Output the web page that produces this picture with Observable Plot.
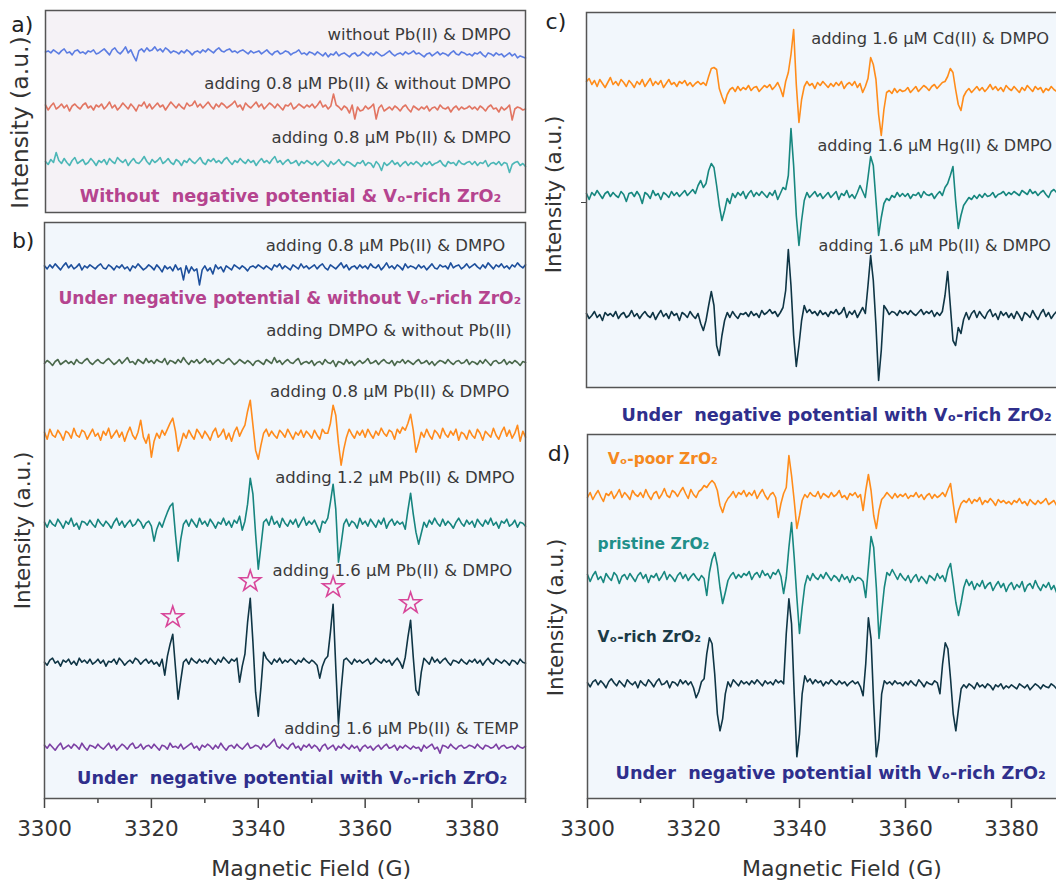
<!DOCTYPE html>
<html><head><meta charset="utf-8">
<script src="https://cdn.jsdelivr.net/npm/d3@7"></script>
<script src="https://cdn.jsdelivr.net/npm/@observablehq/plot@0.6"></script>
<style>
body{margin:0;background:#fff;}
#fig{position:relative;width:1056px;height:882px;overflow:hidden;font-family:"DejaVu Sans",sans-serif;}
#fig > div{position:absolute;}
#fig svg{max-width:none !important;}
#err{position:absolute;left:0;top:0;color:red;font:12px monospace;z-index:9;}
</style></head><body><div id="fig"></div><div id="err"></div>
<script>
// Magnetic field sampling (G): 3300 .. 3390 in 0.5 G steps (181 samples)
const fieldStart = 3300, fieldStep = 0.5, nSamples = 181;
const field = d3.range(nSamples).map(i => fieldStart + i * fieldStep);

// ---- Panel a spectra (intensity, a.u., relative to each trace baseline) ----
const a_noPbDMPO = [
 1,2,0,3,1,-1,2,4,0,1,-2,2,3,0,1,-1,2,1,3,-1,
 0,2,4,1,-2,3,5,1,-1,2,6,0,3,-3,-8,2,4,1,5,2,
 3,6,2,4,1,5,3,0,2,1,-1,2,0,3,1,-2,1,2,0,3,
 1,4,2,0,3,5,2,1,3,4,1,2,0,2,3,1,-1,2,0,1,
 2,-1,1,3,0,-2,1,2,-1,0,2,1,-2,0,1,3,-1,0,-2,1,
 0,-2,1,-1,-3,0,-4,-1,-2,1,-3,-1,0,-2,-4,-1,0,-3,-2,1,
 -1,-3,0,-2,1,-1,-3,-2,0,2,-1,-3,-1,0,-2,1,-1,0,2,-1,
 0,-2,-4,-1,0,-3,-1,1,-2,0,-1,-3,0,2,-1,-2,1,0,-2,-1,
 -3,0,-1,1,-2,-4,0,-1,-3,0,-2,-1,-4,-2,0,-3,-1,-5,-3,-4,
 -5];
const a_PbNoDMPO = [
 2,-3,1,4,-2,0,3,-1,2,-4,1,3,0,-2,2,4,-1,1,-3,2,
 0,3,-2,1,5,-1,2,-3,0,4,1,-2,3,0,-4,2,1,5,-1,3,
 -2,1,4,0,2,-3,1,5,2,-1,3,0,-2,4,1,2,6,0,3,-1,
 2,5,1,-2,3,0,4,2,-1,1,3,6,0,2,-3,4,1,-1,2,5,
 0,3,-2,1,4,2,-1,3,0,-3,2,1,4,-2,0,3,1,-1,2,0,
 3,-1,2,6,0,2,-2,1,13,2,0,-3,1,-1,-6,2,-12,0,-4,-3,
 1,-2,0,3,-12,-1,2,-4,-2,0,-3,1,-1,-4,0,2,-2,-5,1,-1,
 -3,0,-2,1,-4,-1,0,-3,2,-1,-2,0,-5,-1,1,-3,0,-2,-1,1,
 -2,0,-3,1,-1,-4,0,2,-2,-1,-5,0,-3,-1,2,-13,-2,0,-1,-3,
 -2];
const a_PbDMPO = [
 1,-2,3,0,10,2,-1,4,0,-3,2,5,-1,1,3,-2,0,4,1,-3,
 2,0,3,-2,4,1,-1,5,2,0,3,-3,1,4,0,-1,2,6,1,-2,
 3,0,2,5,-1,1,4,0,-2,3,1,-3,2,0,4,1,-1,2,5,0,
 -2,3,1,4,0,2,-1,3,5,1,-2,2,0,4,1,-1,3,0,2,-3,
 1,4,0,2,-1,3,6,0,2,-2,1,3,-1,0,2,-3,1,-1,2,0,
 -2,1,-3,0,2,-1,-4,1,-2,0,3,-1,-3,1,0,-2,-4,0,-1,2,
 -3,0,-1,-5,1,-2,-8,0,-3,-1,2,-2,0,-4,-1,1,-3,0,-2,1,
 -1,-4,0,-2,1,-3,-1,0,2,-2,-4,1,-1,0,-3,2,-1,-2,0,1,
 -2,1,-3,0,-1,2,-4,-1,0,-2,1,-3,0,-1,-10,-2,0,1,-3,-1,
 -4];

// ---- Panel b spectra ----
const b_noVo = [
 2,-1,3,0,4,1,-2,2,5,0,3,-1,1,4,-2,2,0,3,1,-1,
 2,4,0,-1,3,1,-2,2,0,3,-1,1,-3,2,0,4,1,-2,0,3,
 1,-2,3,0,-4,2,-1,1,-3,3,-2,0,-12,2,-5,1,-3,-1,-17,-2,
 2,-3,0,-6,3,-1,1,-4,2,0,-2,3,1,-1,2,0,-3,1,2,0,
 3,1,-1,2,0,-2,3,1,4,-1,2,0,-2,3,1,-1,4,0,2,-1,
 1,3,-1,2,4,0,-2,3,1,-1,2,5,0,3,-2,1,2,-1,3,0,
 2,-1,4,1,0,3,-2,1,5,0,2,-1,3,1,-2,4,0,2,1,-1,
 3,0,2,-2,1,4,0,-1,3,1,2,-1,5,0,2,3,-1,1,4,0,
 2,4,1,-1,3,0,5,2,-1,3,1,4,0,2,-1,3,1,5,2,0,
 3];
const b_DMPOnoPb = [
 -1,2,0,-3,1,3,-2,0,2,-1,1,-2,3,0,-1,2,4,0,-2,1,
 3,0,-1,2,4,1,-2,0,3,-1,2,5,0,1,-2,3,1,-1,4,0,
 2,-1,3,1,0,4,-2,2,1,-1,3,0,5,1,-2,2,0,3,-1,1,
 4,0,2,-2,1,3,0,-1,2,4,1,-2,0,3,1,-1,2,0,-3,1,
 2,0,-2,3,1,-1,5,0,2,-2,1,3,0,-1,2,4,-2,0,1,-1,
 2,-3,0,1,-2,3,0,-1,2,-4,1,0,-2,3,-1,1,-3,0,2,-1,
 1,4,-1,0,2,-2,1,3,0,-1,2,-3,1,0,3,-1,2,0,-2,1,
 3,-1,0,2,-2,1,-3,0,2,1,-1,3,0,-2,1,2,-1,0,3,-2,
 1,0,-2,2,-1,3,0,-3,1,2,-1,0,3,-2,1,-1,2,0,-3,1,
 0];
const b_Pb08 = [
 3,-4,6,0,-2,5,1,-5,4,2,-3,7,0,-2,5,3,-4,1,6,-1,
 2,-5,4,0,7,-3,1,5,-2,3,-6,2,8,0,-4,3,15,-2,-8,1,
 -22,-6,2,-3,5,0,6,12,17,4,-16,-8,2,-3,5,0,-4,6,2,-3,
 4,0,-5,3,7,-2,1,6,-4,2,-6,3,8,-1,5,10,24,35,10,-15,
 -24,-10,2,6,-1,4,0,-3,5,2,-2,6,1,-4,3,0,5,-2,4,1,
 -3,5,0,-4,6,2,2,12,30,20,-8,-30,-14,-2,6,1,-3,4,0,5,
 -2,6,1,-3,4,0,7,2,-1,5,3,-4,6,2,8,5,12,21,5,-17,
 -8,3,-2,6,0,-4,5,2,-3,7,1,-2,4,0,6,-5,3,1,-4,5,
 0,-3,6,2,-5,4,1,-2,7,0,-4,3,8,-1,5,-3,2,10,-6,4,
 -2];
const b_Pb12 = [
 2,-3,4,0,-2,5,1,-4,3,0,6,-2,1,-5,3,2,-1,4,0,-3,
 5,1,-2,3,0,-4,2,6,-1,3,-3,1,4,-2,0,5,2,-4,1,3,
 -2,-17,-5,2,-3,5,12,18,21,-10,-37,-15,0,4,-2,5,1,-3,6,0,
 3,-2,5,1,-4,2,0,6,-1,3,-3,4,1,8,-6,3,20,46,30,-10,
 -45,-22,2,5,-1,8,0,3,-3,6,1,-2,4,0,5,-3,2,7,-1,3,
 0,4,-2,-8,3,1,6,22,40,15,-38,-20,0,5,-2,3,1,-4,6,0,
 3,-2,5,1,-3,4,0,6,-4,2,5,-1,3,0,2,-5,14,31,10,-8,
 -20,-9,2,-3,4,0,6,1,-2,5,-1,3,0,-4,2,6,1,-2,4,0,
 3,-3,5,1,-2,4,0,6,-1,2,-4,3,1,5,-2,0,4,-3,2,1,
 -2];
const b_Pb16 = [
 0,-3,2,4,-1,1,-4,2,0,3,-2,1,-3,4,0,2,-1,3,-2,0,
 3,-1,2,-4,1,0,3,-2,4,1,-3,0,2,-1,4,2,-2,1,3,-1,
 2,-2,0,-4,3,-13,6,18,28,-5,-37,-18,0,3,-2,4,1,-1,3,0,
 2,-1,4,1,-2,3,0,5,2,-1,3,1,4,-20,-4,8,40,64,20,-30,
 -54,-25,10,4,1,-2,3,0,4,-1,2,0,3,1,-2,2,0,4,1,-1,
 2,0,-3,-16,-4,3,6,30,58,-5,-62,-28,2,4,1,-2,3,0,2,-1,
 1,3,-2,0,4,1,-1,3,0,2,-3,1,4,0,-6,5,25,42,5,-28,
 -33,-10,4,1,-2,5,0,3,-1,2,4,0,-3,2,1,-1,3,0,-2,2,
 0,3,-1,2,-3,1,4,0,-2,3,1,-1,2,0,-3,2,1,-2,3,0,
 -1];
const b_TEMP = [
 2,-1,3,0,-3,1,4,-2,0,2,-1,3,1,-2,4,0,-3,2,1,-1,
 3,0,-2,1,4,-1,2,-3,0,3,1,-2,2,4,-1,0,3,-2,1,2,
 -1,3,0,-3,2,1,-2,4,0,1,-1,3,-2,0,2,4,-1,1,-3,2,
 0,3,1,-2,2,-1,4,0,-3,1,2,-1,3,0,-2,1,4,-1,0,2,
 1,-2,3,0,2,5,8,1,-1,3,0,-2,2,4,-1,1,-3,2,0,3,
 -1,2,0,-4,1,3,-2,0,2,-3,1,-1,3,0,-2,2,-1,1,-4,0,
 2,-1,1,-3,0,2,-2,1,3,-1,0,2,-3,1,-1,2,0,-2,1,-1,
 0,-4,2,-1,1,3,-2,0,-6,2,1,-1,3,0,-2,1,2,-1,0,2,
 1,-1,3,0,-2,2,1,-1,0,3,-2,1,2,-1,0,1,-2,2,0,-1,
 1];

// ---- Panel c spectra ----
const c_Cd = [
 3,6,0,4,-2,5,1,-3,2,7,0,3,-1,5,2,-2,4,1,-3,3,
 0,5,-2,2,6,-1,3,0,4,-3,1,5,0,2,-2,3,1,4,-1,2,
 -2,1,3,0,2,-1,8,16,17,15,-4,-12,-19,-10,-5,-3,-7,-2,-6,-3,
 -5,-1,-6,-3,-2,-7,-4,-1,-3,0,-5,-2,2,-4,-12,3,12,30,55,0,
 -38,-15,-2,3,-1,1,-4,2,-1,3,0,-3,1,-2,2,-1,3,-4,0,2,
 -1,3,-3,1,-8,-2,6,27,20,5,-30,-51,-25,-8,-6,-9,-4,-8,-5,-7,
 -6,-3,-8,-5,-2,-7,-4,-1,-3,-6,-2,0,-4,-1,2,3,8,16,12,-5,
 -20,-26,-12,-7,-4,-8,-5,-2,-6,-3,-7,-4,0,-5,-2,-6,-3,-7,-1,-4,
 -6,-2,-5,-8,-3,-6,-1,-4,-7,-2,-5,-3,-8,-4,-6,-2,-5,-7,-3,-6,
 -4];
const c_Hg = [
 2,-4,3,0,5,1,-3,2,4,-1,3,0,-2,4,1,-6,2,3,-1,4,
 0,-8,3,1,-3,5,0,2,-4,3,1,-2,4,0,3,-1,2,5,0,3,
 6,2,10,15,8,12,25,32,28,10,-10,-25,-15,-3,-8,2,-2,3,0,4,
 -3,2,5,-1,3,0,4,1,-2,3,0,5,-4,2,8,6,20,67,30,-20,
 -50,-25,-5,3,-2,1,4,-1,2,-3,0,3,-2,1,4,-4,2,0,5,-2,
 1,-3,3,10,4,-2,18,39,30,-5,-40,-22,-8,-3,-5,0,-2,3,-1,2,
 -1,2,-3,1,0,3,-2,4,1,0,2,-3,1,4,0,8,12,20,29,-5,
 -33,-20,-10,-6,-2,-4,0,-3,1,-2,2,-1,0,3,-2,1,2,4,0,3,
 1,4,2,0,5,3,1,6,2,4,0,3,5,1,-2,4,6,3,5,2,
 4];
const c_Pb = [
 2,-3,0,4,-2,1,-5,3,0,2,-1,4,-3,1,3,-2,0,5,-1,2,
 -3,1,4,0,-2,3,-4,1,5,-1,2,-3,4,0,2,-5,3,1,-2,4,
 0,-3,2,-8,-15,-5,10,24,10,-30,-40,-20,-5,3,-2,4,0,-3,2,1,
 3,-1,4,0,2,-2,5,1,3,6,2,4,-1,3,8,25,66,30,-20,-51,
 -30,-5,10,3,6,2,4,0,5,1,3,-1,4,2,6,1,3,8,-2,4,
 1,5,-2,3,8,2,30,60,35,-10,-65,-35,10,6,1,4,3,0,5,2,
 4,1,5,2,0,3,6,1,4,2,5,-1,3,0,4,20,44,10,-25,-30,
 -12,-18,-4,3,-4,2,5,-2,4,0,-3,3,6,-1,2,-4,4,0,3,-2,
 2,-3,4,0,-5,3,1,-2,5,0,-4,2,6,-1,3,-3,1,4,-2,0,
 3];

// ---- Panel d spectra ----
const d_poor = [
 -2,3,-4,1,5,-1,-6,2,0,4,-3,1,6,-2,3,0,-4,5,1,-1,
 3,-2,6,0,-4,2,4,-3,1,7,0,-2,5,3,-1,4,8,2,-3,6,
 1,-2,4,6,10,8,12,15,12,5,-10,-17,-8,-3,0,4,-2,3,1,5,
 -1,3,0,5,-3,2,6,0,-4,1,3,-2,-22,-8,2,8,40,20,-5,-33,
 -20,-5,1,-2,3,0,-1,4,-3,2,0,-2,3,-1,1,5,-2,0,-4,2,
 0,3,-2,1,-15,5,21,5,-20,-33,-15,-4,-1,3,0,-3,2,-2,1,-1,
 2,-3,0,-1,3,-2,1,-4,0,2,-3,1,-2,0,3,-1,6,12,-8,-27,
 -15,-8,-5,-7,-3,-8,-4,-6,-2,-9,-5,-7,-3,-6,-10,-4,-7,-5,-8,-6,
 -9,-5,-7,-3,-8,-6,-10,-4,-7,-9,-5,-8,-6,-3,-9,-7,-5,-10,-8,-6,
 -7];
const d_pristine = [
 3,-4,2,6,-2,1,-5,4,0,-3,5,2,-6,1,3,-2,4,0,-4,2,
 5,-1,3,-5,2,0,4,-3,1,6,-2,3,0,-4,2,5,-1,3,-3,1,
 4,0,-3,2,-1,-18,5,18,25,12,-10,-26,-15,-3,2,5,-1,3,0,4,
 2,6,-2,3,5,0,7,2,4,-1,5,3,8,1,-16,0,30,55,20,-20,
 -56,-30,-8,2,-3,4,0,-2,3,-1,5,1,-3,2,0,-4,3,-2,1,-5,
 2,-3,0,-1,-4,-20,10,41,30,-10,-61,-35,-10,5,2,8,3,-2,4,0,
 -3,2,-5,0,3,-4,1,-2,-6,2,0,-3,4,-1,2,-4,8,14,-5,-25,
 -38,-25,-10,-2,-8,-4,-12,-6,-9,-3,-11,-7,-5,-13,-8,-4,-10,-6,-14,-8,
 -5,-12,-7,-10,-4,-14,-8,-6,-11,-3,-9,-13,-7,-10,-5,-12,-8,-15,-6,-10,
 -9];
const d_rich = [
 1,-3,2,4,-1,3,0,-4,2,5,1,-2,3,0,-3,4,1,-1,2,-4,
 3,0,-2,4,1,-3,2,5,-1,0,3,-4,2,1,-2,4,0,3,-1,2,
 -4,-14,-8,2,5,30,46,40,10,-30,-47,-35,-10,2,-3,4,1,-2,3,0,
 2,-1,3,0,4,1,-2,3,0,2,-1,4,1,3,0,50,85,60,-10,-73,
 -50,-10,8,2,5,0,4,1,3,-2,2,0,4,1,-1,3,0,2,-2,1,
 3,0,2,-3,-12,20,66,45,-20,-73,-55,-10,3,0,2,-1,3,0,1,-2,
 2,-1,3,0,-2,4,1,-3,2,0,-1,3,1,-10,20,41,35,5,-30,-47,
 -25,-5,-1,-4,0,-2,-5,1,-3,-1,-4,0,-2,-6,-1,-3,0,-5,-2,-4,
 -1,-3,-5,0,-2,-4,-1,-6,-3,0,-2,-5,-1,-3,-4,0,-2,-5,-3,-1,
 -3];

// Stacking offsets of each trace (a.u. above the panel floor)
const offsetsA = [159.6, 105.5, 50];
const offsetsB = [530.6, 436, 363.3, 274.3, 136.3, 51.3];
const offsetsC = [303, 192, 72];
const offsetsD = [303, 221, 114.7];

// Labels
const labelsA = ["without Pb(II) & DMPO", "adding 0.8 μM Pb(II) & without DMPO", "adding 0.8 μM Pb(II) & DMPO"];
const labelsB = ["adding 0.8 μM Pb(II) & DMPO", "adding DMPO & without Pb(II)", "adding 0.8 μM Pb(II) & DMPO",
                 "adding 1.2 μM Pb(II) & DMPO", "adding 1.6 μM Pb(II) & DMPO", "adding 1.6 μM Pb(II) & TEMP"];
const labelsC = ["adding 1.6 μM Cd(II) & DMPO", "adding 1.6 μM Hg(II) & DMPO", "adding 1.6 μM Pb(II) & DMPO"];
const labelsD = ["Vₒ-poor ZrO₂", "pristine ZrO₂", "Vₒ-rich ZrO₂"];
const captionA = "Without\u00a0 negative potential & Vₒ-rich ZrO₂";
const captionB1 = "Under negative potential & without Vₒ-rich ZrO₂";
const captionVo = "Under\u00a0 negative potential with Vₒ-rich ZrO₂";
const starFields = [3324, 3338.5, 3354, 3368.5];
const majorTicks = [3300, 3320, 3340, 3360, 3380];
const minorTicks = [3310, 3330, 3350, 3370, 3390];
const yTitle = "Intensity (a.u.)", xTitle = "Magnetic Field (G)";

// ---------- drawing ----------
const errs = [];
[["a_noPbDMPO",a_noPbDMPO],["a_PbNoDMPO",a_PbNoDMPO],["a_PbDMPO",a_PbDMPO],["b_noVo",b_noVo],["b_DMPOnoPb",b_DMPOnoPb],
 ["b_Pb08",b_Pb08],["b_Pb12",b_Pb12],["b_Pb16",b_Pb16],["b_TEMP",b_TEMP],["c_Cd",c_Cd],["c_Hg",c_Hg],["c_Pb",c_Pb],
 ["d_poor",d_poor],["d_pristine",d_pristine],["d_rich",d_rich]].forEach(([n,a]) => { if (a.length !== nSamples) errs.push(n + ":" + a.length); });
if (errs.length) document.getElementById("err").textContent = errs.join(" ");

const FONT = "DejaVu Sans";
const trace = (values, offset, color) =>
  Plot.line(values.map((v, i) => ({f: field[i], v: offset + v})), {x: "f", y: "v", stroke: color, strokeWidth: 1.6, strokeLinejoin: "round"});
const label = (text, x, y, o = {}) =>
  Plot.text([text], {x: [x], y: [y], text: d => d, lineAnchor: "bottom", fontFamily: FONT, fontSize: 16.5, fill: "#3a3a3a", ...o});
const bold = (text, x, y, color, size = 17.7, o = {}) => label(text, x, y, {fontWeight: "bold", fill: color, fontSize: size, textAnchor: "start", ...o});
const yLabel = (x, y, size = 21.5) => label(yTitle, x, y, {rotate: -90, textAnchor: "middle", fontSize: size, fill: "#333"});
const letter = (t, x, y) => label(t, x, y, {textAnchor: "start", fontSize: 22, fill: "#222"});

const fig = document.getElementById("fig");
function panel(left, top, o, marks, axes = []) {
  const svg = Plot.plot({
    width: o.width, height: o.height,
    marginLeft: o.ml, marginRight: o.mr, marginTop: o.mt, marginBottom: o.mb,
    x: {domain: [3300, 3390], label: null, ...(axes.length ? {} : {axis: null})},
    y: {domain: [0, o.H], label: null, axis: null},
    style: {fontFamily: FONT, color: "#333", background: "transparent", overflow: "visible", maxWidth: "none"},
    marks: [Plot.frame({fill: o.bg, stroke: null}), ...marks, ...axes, Plot.frame({stroke: "#555", strokeWidth: 1.5})]
  });
  svg.style.maxWidth = "none";
  const d = document.createElement("div");
  d.style.left = left + "px"; d.style.top = top + "px";
  d.style.width = o.width + "px"; d.style.height = o.height + "px";
  d.appendChild(svg); fig.appendChild(d);
}
const xAxes = [
  Plot.axisX({ticks: majorTicks, tickSize: 10, tickPadding: 12, tickFormat: "d", fontSize: 21.5, stroke: "#444", strokeWidth: 1.5, label: null}),
  Plot.axisX({ticks: minorTicks, tickSize: 5, tickFormat: () => "", stroke: "#444", strokeWidth: 1.5, label: null})
];

// Panel a
const colA = ["#5c7de2", "#e27562", "#4db7b7"];
panel(0, 0, {width: 530, height: 216, ml: 45, mr: 5, mt: 10, mb: 4, H: 202, bg: "#f5f2f6"}, [
  trace(a_noPbDMPO, offsetsA[0], colA[0]),
  trace(a_PbNoDMPO, offsetsA[1], colA[1]),
  trace(a_PbDMPO, offsetsA[2], colA[2]),
  label(labelsA[0], 3387.3, 172.1, {textAnchor: "end"}),
  label(labelsA[1], 3387.3, 123.4, {textAnchor: "end"}),
  label(labelsA[2], 3387.3, 70, {textAnchor: "end"}),
  bold(captionA, 3306.4, 11, "#b5448f"),
  yLabel(3296.7, 90, 23.5),
  letter("a)", 3293.6, 181)
]);

// Panel b
const colB = ["#1d4f9c", "#4b694c", "#ff8b1c", "#17857f", "#0f3545", "#7c40a4"];
const seriesB = [b_noVo, b_DMPOnoPb, b_Pb08, b_Pb12, b_Pb16, b_TEMP];
const starRows = starFields.map(f => {
  const i = Math.round((f - fieldStart) / fieldStep);
  return {f, v: offsetsB[4] + d3.max(b_Pb16.slice(i - 2, i + 3)) + 17};
});
panel(0, 216, {width: 530, height: 666, ml: 44, mr: 5, mt: 6, mb: 84, H: 576, bg: "#f2f7fc"}, [
  ...seriesB.map((s, k) => trace(s, offsetsB[k], colB[k])),
  Plot.dot(starRows, {x: "f", y: "v", symbol: "star", r: 6.6, fill: "none", stroke: "#d8479a", strokeWidth: 1.6}),
  label(labelsB[0], 3386.2, 547.5, {textAnchor: "end"}),
  bold(captionB1, 3302.6, 494.4, "#b5448f", 17.1),
  label(labelsB[1], 3387.4, 463, {textAnchor: "end"}),
  label(labelsB[2], 3387.0, 401.2, {textAnchor: "end"}),
  label(labelsB[3], 3388.0, 316, {textAnchor: "end"}),
  label(labelsB[4], 3387.5, 223, {textAnchor: "end"}),
  label(labelsB[5], 3388.7, 64.7, {textAnchor: "end"}),
  bold(captionVo, 3306.1, 15, "#2f2f8c"),
  yLabel(3297.2, 268),
  letter("b)", 3293.9, 551),
  label(xTitle, 3349.9, -77, {textAnchor: "middle", fontSize: 22, fill: "#333"})
], xAxes);

// Panel c
const colC = ["#ff8c1a", "#17877f", "#0f3545"];
panel(530, 0, {width: 540, height: 430, ml: 56, mr: 6, mt: 12, mb: 43, H: 375, bg: "#f2f7fc"}, [
  trace(c_Cd, offsetsC[0], colC[0]),
  trace(c_Hg, offsetsC[1], colC[1]),
  trace(c_Pb, offsetsC[2], colC[2]),
  label(labelsC[0], 3342.3, 343.7, {textAnchor: "start", fontSize: 16.3}),
  label(labelsC[1], 3343.5, 237, {textAnchor: "start", fontSize: 16}),
  label(labelsC[2], 3343.7, 137, {textAnchor: "start", fontSize: 16}),
  bold(captionVo, 3306.6, -33.8, "#2f2f8c"),
  Plot.axisY({ticks: [185], tickSize: 5, tickFormat: () => "", stroke: "#444", label: null}),
  yLabel(3295.2, 193),
  letter("c)", 3292.3, 359)
]);

// Panel d
const colD = ["#ff8c1a", "#17877f", "#0f3545"];
const colDLabel = ["#f5891f", "#1f8f8a", "#1b3a46"];
panel(530, 424, {width: 540, height: 458, ml: 57, mr: 6, mt: 10, mb: 84, H: 364, bg: "#f2f7fc"}, [
  trace(d_poor, offsetsD[0], colD[0]),
  trace(d_pristine, offsetsD[1], colD[1]),
  trace(d_rich, offsetsD[2], colD[2]),
  bold(labelsD[0], 3303.8, 334.7, colDLabel[0], 15.5),
  bold(labelsD[1], 3301.9, 249.7, colDLabel[1], 15.5),
  bold(labelsD[2], 3301.9, 156.3, colDLabel[2], 15.5),
  bold(captionVo, 3305.3, 20, "#2f2f8c"),
  yLabel(3295.4, 181),
  letter("d)", 3292.5, 338),
  label(xTitle, 3348.0, -77, {textAnchor: "middle", fontSize: 22, fill: "#333"})
], xAxes);
</script>
</body></html>
